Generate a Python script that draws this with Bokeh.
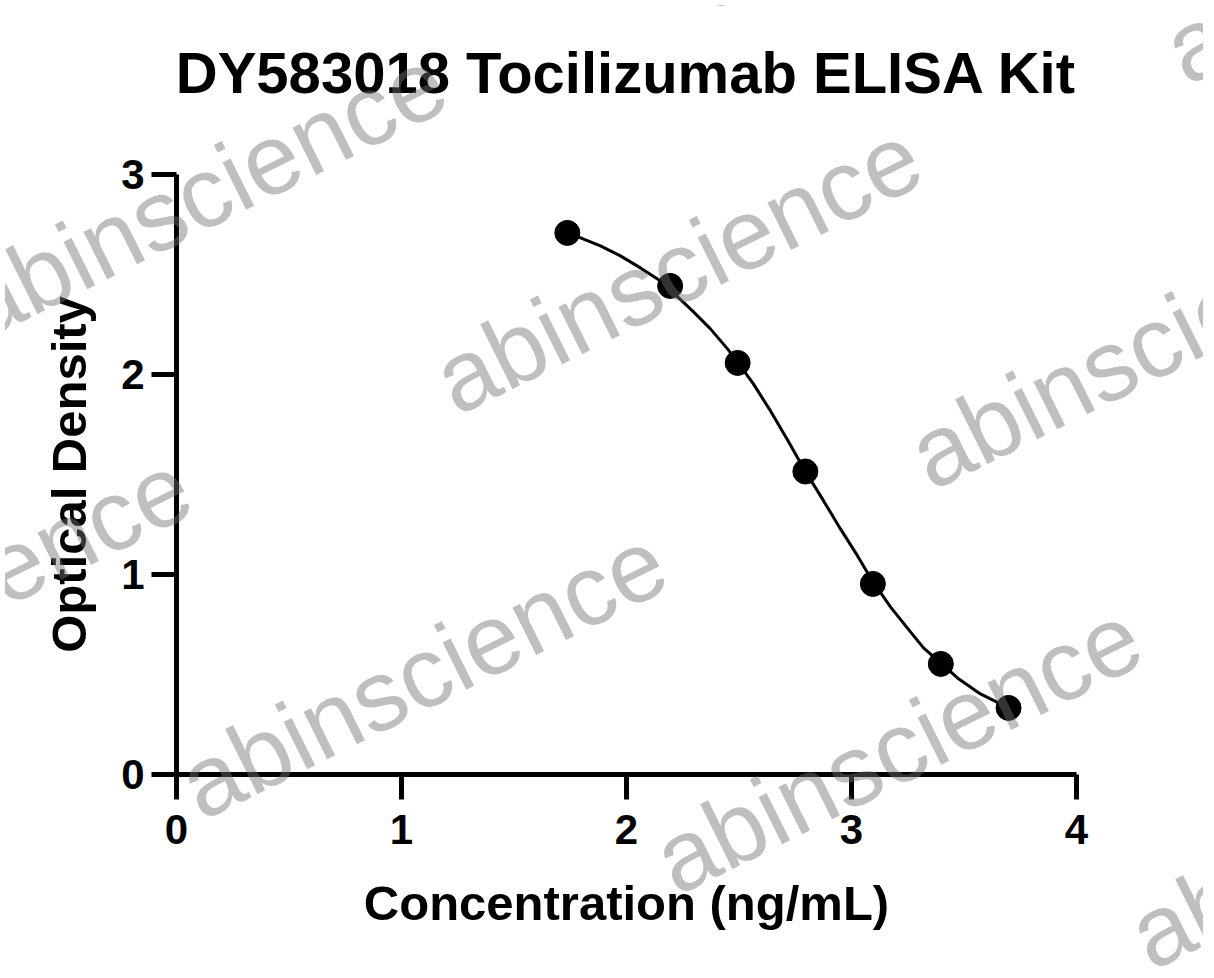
from bokeh.plotting import figure
from bokeh.models import FixedTicker, Range1d, GridBox, Div, Title
from bokeh.embed import file_html
from bokeh.resources import INLINE

# ---- data ----
conc_log = [1.737, 2.194, 2.494, 2.795, 3.095, 3.397, 3.698]
od = [2.708, 2.443, 2.058, 1.515, 0.953, 0.553, 0.333]

fit_x = [1.738, 1.796, 1.884, 1.973, 2.062, 2.138, 2.218, 2.298, 2.373, 2.449,
         2.493, 2.564, 2.640, 2.716, 2.791, 2.876, 2.951, 3.027, 3.093, 3.173,
         3.262, 3.320, 3.396, 3.471, 3.573, 3.698]
fit_y = [2.708, 2.683, 2.643, 2.593, 2.533, 2.478, 2.398, 2.313, 2.228, 2.128,
         2.063, 1.953, 1.818, 1.673, 1.523, 1.368, 1.228, 1.093, 0.968, 0.838,
         0.713, 0.633, 0.558, 0.483, 0.403, 0.333]

x_ticks = [0, 1, 2, 3, 4]
y_ticks = [0, 1, 2, 3]

title_text = "DY583018 Tocilizumab ELISA Kit"
x_label = "Concentration (ng/mL)"
y_label = "Optical Density"
watermark_text = "abinscience"

# watermark anchor points (page pixels, baseline centre of each word)
wm_px_x = [213, 688, 1163, 1418, 943, -42, 433, 908, 1383]
wm_px_y = [219, 294, 369, -36, -111, 624, 699, 774, 849]

FONT = "Liberation Sans"
W, H = 1198, 962

# ---------------- main chart ----------------
p = figure(width=W, height=H,
           x_range=Range1d(0, 4), y_range=Range1d(0, 3),
           output_backend="svg", toolbar_location=None, title_location=None,
           min_border_left=176, min_border_right=W - 176 - 900,
           min_border_top=174, min_border_bottom=H - 174 - 600)
p.grid.visible = False
p.outline_line_color = None
p.background_fill_alpha = 0
p.border_fill_alpha = 0

# spacer next to the frame, then the real title above it
spacer = Title(text=" ", text_font_size="10px", standoff=52)
main_title = Title(text=title_text, align="center", text_font=FONT,
                   text_font_size="58px", text_font_style="bold",
                   text_color="black", standoff=10)
p.add_layout(spacer, "above")
p.add_layout(main_title, "above")

p.xaxis.ticker = FixedTicker(ticks=x_ticks)
p.yaxis.ticker = FixedTicker(ticks=y_ticks)
p.xaxis.axis_label = x_label
p.yaxis.axis_label = y_label

for ax in (p.xaxis, p.yaxis):
    ax.axis_line_width = 5
    ax.axis_line_color = "black"
    ax.major_tick_line_width = 5
    ax.major_tick_line_color = "black"
    ax.major_tick_out = 25
    ax.major_tick_in = 0
    ax.minor_tick_out = 0
    ax.minor_tick_in = 0
    ax.major_label_text_font = FONT
    ax.major_label_text_font_size = "42px"
    ax.major_label_text_font_style = "bold"
    ax.major_label_text_color = "black"
    ax.axis_label_text_font = FONT
    ax.axis_label_text_font_size = "49px"
    ax.axis_label_text_font_style = "bold"
    ax.axis_label_text_color = "black"

p.xaxis.major_label_standoff = 15
p.xaxis.axis_label_standoff = 29
p.yaxis.major_label_standoff = 7
p.yaxis.axis_label_standoff = 22

p.line(fit_x, fit_y, line_width=3, color="black")
p.scatter(conc_log, od, size=25, color="black")

# ---------------- watermark overlay (same grid cell, on top) ----------------
texts = "".join(
    f'<text x="{x}" y="{y}" transform="rotate(-26.5 {x} {y})" text-anchor="middle" '
    f'font-family="{FONT}" font-size="100px" fill="#707070" fill-opacity="0.45">'
    f'{watermark_text}</text>'
    for x, y in zip(wm_px_x, wm_px_y))
svg = (f'<svg xmlns="http://www.w3.org/2000/svg" width="{W}" height="{H}" '
       f'style="display:block;pointer-events:none">{texts}</svg>')
wm = Div(text=svg, width=W, height=H,
         styles={"z-index": "10", "pointer-events": "none", "overflow": "hidden"})

layout = GridBox(children=[(p, 0, 0), (wm, 0, 0)])

open("out.html", "w").write(file_html(layout, INLINE))
